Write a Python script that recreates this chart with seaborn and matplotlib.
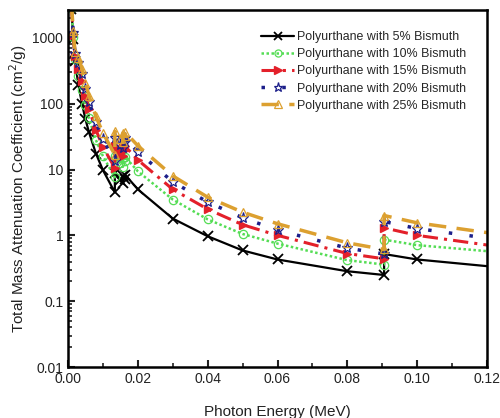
import numpy as np
import pandas as pd
import seaborn as sns
import matplotlib
matplotlib.use("Agg")
import matplotlib.pyplot as plt
import matplotlib.ticker as mtick

# DADOS
energia = [0.001, 0.0015, 0.002, 0.003, 0.004, 0.005, 0.006, 0.008, 0.010,
           0.01342, 0.01342, 0.015, 0.01571, 0.01571, 0.01639, 0.01639,
           0.020, 0.030, 0.040, 0.050, 0.060, 0.080, 0.09053, 0.09053, 0.100, 0.150]

bi5 = [2700, 960, 440, 190, 100, 58, 37, 17.5, 9.8,
       4.5, 8.8, 7.0, 6.2, 8.0, 7.3, 8.3,
       5.0, 1.8, 0.97, 0.59, 0.43, 0.285, 0.25, 0.52, 0.43, 0.24]
bi10 = [2850, 1040, 485, 265, 160, 94, 60, 28, 16,
        7.6, 16, 12.5, 11, 15, 13.5, 15.5,
        9.4, 3.5, 1.75, 1.05, 0.75, 0.42, 0.36, 0.86, 0.71, 0.42]
bi15 = [3000, 1120, 530, 340, 220, 132, 84, 40, 22,
        10.6, 23, 18, 16, 22, 19.5, 22.5,
        14, 5.0, 2.5, 1.45, 1.0, 0.53, 0.44, 1.3, 1.0, 0.43]
bi20 = [3150, 1200, 575, 420, 280, 170, 108, 52, 29,
        13.6, 30, 23.5, 21, 29, 26, 30,
        18.5, 6.5, 3.2, 1.85, 1.2, 0.64, 0.52, 1.62, 1.27, 0.55]
bi25 = [3300, 1280, 620, 500, 340, 210, 132, 64, 36,
        16.8, 38, 29, 26, 36, 32, 37,
        23, 8.0, 3.8, 2.25, 1.5, 0.77, 0.61, 2.0, 1.55, 0.66]

rotulos = ["Polyurthane with 5% Bismuth", "Polyurthane with 10% Bismuth",
           "Polyurthane with 15% Bismuth", "Polyurthane with 20% Bismuth",
           "Polyurthane with 25% Bismuth"]

# ESTILOS
estilos = [
    dict(color="black", linestyle="-", lw=1.6, marker="x", ms=7, mew=1.3, mfc="black"),
    dict(color="#55dd55", linestyle=(0, (1, 1)), lw=1.8, marker="o", ms=6, mew=0.9, mfc="none"),
    dict(color="#e3202a", linestyle=(0, (5, 2, 1, 2)), lw=2.2, marker=">", ms=6, mew=1.0, mfc="#e3202a"),
    dict(color="#1c1f8a", linestyle=(0, (1, 5)), lw=2.5, marker="*", ms=8, mew=0.9, mfc="none"),
    dict(color="#dca030", linestyle=(0, (5, 3)), lw=2.5, marker="^", ms=6, mew=0.9, mfc="none"),
]

sns.set_style("white")
plt.rcParams['font.family'] = ['Liberation Sans', 'DejaVu Sans']

fig = plt.figure(figsize=(5, 4.18), dpi=100)
ax = fig.add_axes([0.136, 0.122, 0.838, 0.854])

for serie, rot, st in zip([bi5, bi10, bi15, bi20, bi25], rotulos, estilos):
    sns.lineplot(x=energia, y=serie, ax=ax, estimator=None, sort=False,
                 label=rot, color=st["color"], linestyle=st["linestyle"], lw=st["lw"],
                 marker=st["marker"], markersize=st["ms"], markeredgewidth=st["mew"],
                 markeredgecolor=st["color"], markerfacecolor=st["mfc"])

ax.set_yscale("log")
ax.set_xlim(0, 0.12)
ax.set_ylim(0.01, 2650)

ax.xaxis.set_major_locator(mtick.MultipleLocator(0.02))
ax.xaxis.set_minor_locator(mtick.MultipleLocator(0.01))
ax.xaxis.set_major_formatter(mtick.FormatStrFormatter("%.2f"))
ax.yaxis.set_major_locator(mtick.LogLocator(base=10))
ax.yaxis.set_minor_locator(mtick.LogLocator(base=10, subs=np.arange(2, 10)))
ax.yaxis.set_major_formatter(mtick.FuncFormatter(lambda v, p: f"{v:g}"))

ax.tick_params(which="both", direction="in", left=True, bottom=True, top=False, right=False,
               labelsize=10, colors="#222222")
ax.tick_params(which="major", length=5, width=1.5)
ax.tick_params(which="minor", length=3, width=1.2)
for s in ax.spines.values():
    s.set_linewidth(1.8)
    s.set_color("black")

ax.set_xlabel("Photon Energy (MeV)", fontsize=11, labelpad=14, color="#222222")
ax.set_ylabel("Total Mass Attenuation Coefficient (cm$^2$/g)", fontsize=11, labelpad=2,
              color="#222222")

ax.legend(loc="upper left", bbox_to_anchor=(0.45, 0.955), borderaxespad=0, frameon=False,
          fontsize=8.9, handlelength=2.6, labelspacing=0.42, handletextpad=0.3,
          markerscale=0.85)

fig.savefig("out.png", dpi=100)
